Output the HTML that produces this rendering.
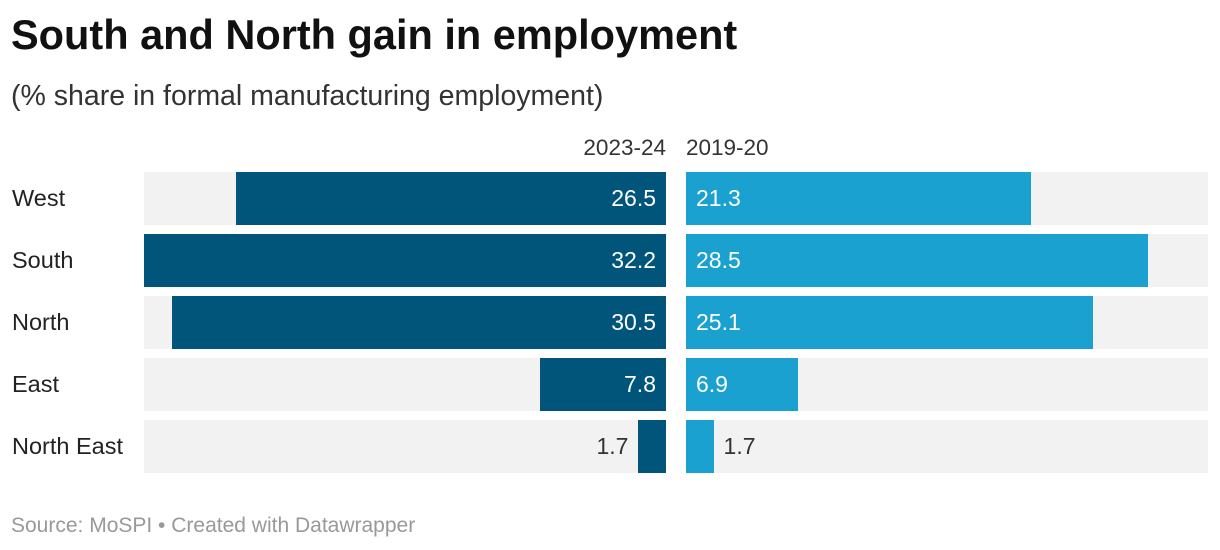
<!DOCTYPE html>
<html><head><meta charset="utf-8"><style>
body{margin:0;background:#fff;font-family:"Liberation Sans",sans-serif;}
#wrap{position:relative;width:1220px;height:550px;overflow:hidden;}
.t{position:absolute;white-space:nowrap;}
</style></head><body>
<div id="wrap">
<div class="t" style="left:11px;top:11px;font-size:41.5px;font-weight:bold;color:#111;">South and North gain in employment</div>
<div class="t" style="left:11px;top:80px;font-size:28.5px;color:#333;">(% share in formal manufacturing employment)</div>
<div class="t" style="right:554px;top:135px;font-size:22.5px;color:#333;">2023-24</div>
<div class="t" style="left:686px;top:135px;font-size:22.5px;color:#333;">2019-20</div>
<div id="rows"></div>
<div class="t" style="left:11px;top:514px;font-size:21px;color:#999;">Source: MoSPI • Created with Datawrapper</div>
</div>
<script>
const categories=["West","South","North","East","North East"];
const values2324=[26.5,32.2,30.5,7.8,1.7];
const values1920=[21.3,28.5,25.1,6.9,1.7];
const maxVal=32.2;
const W=522,L0=144,R0=686,top0=172,pitch=62,rh=53;
const x=v=>v/maxVal*W;
const rows=document.getElementById('rows');
function mk(style){const d=document.createElement('div');d.className='t';d.style.cssText=style;rows.appendChild(d);return d;}
categories.forEach((c,i)=>{
  const y=top0+i*pitch;
  const lab=mk(`left:12px;top:${y}px;height:${rh}px;line-height:${rh}px;font-size:23.5px;color:#222;`);
  lab.textContent=c;
  
  
  const bg1=mk(`left:${L0}px;top:${y}px;width:${W}px;height:${rh}px;background:#f2f2f2;`);
  
  
  const bg2=mk(`left:${R0}px;top:${y}px;width:${W}px;height:${rh}px;background:#f2f2f2;`);
  
  
  const w1=x(values2324[i]);
  const b1=mk(`left:${L0+W-w1}px;top:${y}px;width:${w1}px;height:${rh}px;background:#01547a;`);
  
  
  const in1=w1>60;
  const v1=mk(`right:${1220-(in1?L0+W-10:L0+W-w1-10)}px;top:${y}px;line-height:${rh}px;font-size:23px;color:${in1?'#fff':'#333'};`);
  v1.textContent=values2324[i].toFixed(1);
  
  
  const w2=x(values1920[i]);
  const b2=mk(`left:${R0}px;top:${y}px;width:${w2}px;height:${rh}px;background:#1aa1cf;`);
  
  
  const in2=w2>60;
  const v2=mk(`left:${in2?R0+10:R0+w2+10}px;top:${y}px;line-height:${rh}px;font-size:23px;color:${in2?'#fff':'#333'};`);
  v2.textContent=values1920[i].toFixed(1);
  
  
});
</script>
</body></html>
